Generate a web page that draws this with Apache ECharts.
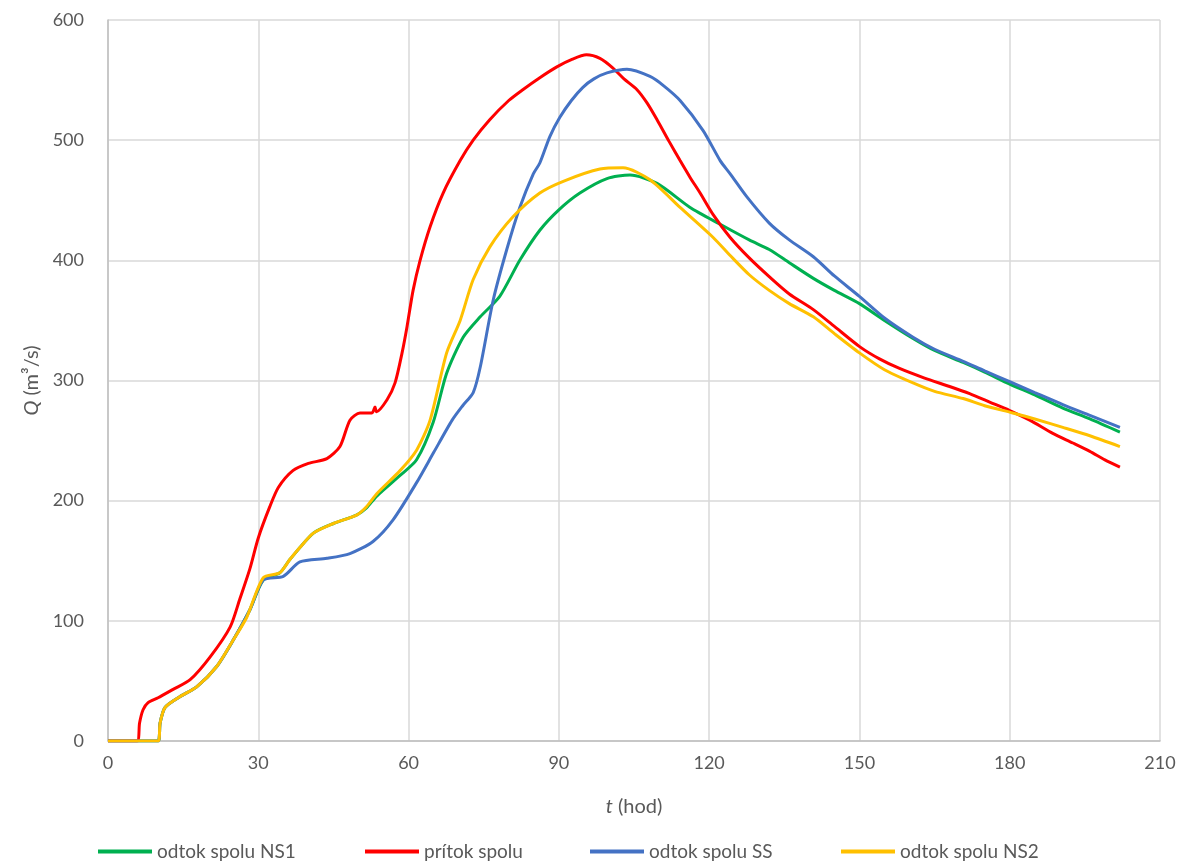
<!DOCTYPE html>
<html>
<head>
<meta charset="utf-8">
<script src="https://cdn.jsdelivr.net/npm/echarts@6/dist/echarts.min.js"></script>
<style>
  html, body { margin: 0; padding: 0; background: #fff; }
  #chart { width: 1185px; height: 862px; }
</style>
</head>
<body>
<div id="chart"></div>
<script>
// priebehy prietokov - hodnoty odcitane z grafu
let seriesNames = ['odtok spolu NS1', 'prítok spolu', 'odtok spolu SS', 'odtok spolu NS2'];
let xTicks = [0, 30, 60, 90, 120, 150, 180, 210];
let yTicks = [0, 100, 200, 300, 400, 500, 600];

let tPritok = [0, 5.8, 6.3, 7, 8, 10, 13, 16.4, 20.4, 24.4, 26.3, 28.3, 30, 32.3, 34, 36.9, 40, 43.7, 46.3, 48.3, 50.3, 52.7, 53.3, 53.6, 55.7, 57.3, 58.7, 59.7, 60.9, 62.3, 64.3, 66.9, 70.3, 72.9, 76.2, 80, 82.8, 86.2, 89.6, 92.5, 95.5, 98.2, 100.8, 103, 105.6, 107.6, 109.6, 112, 114.2, 116.2, 118.2, 120.8, 124.2, 128, 132.1, 136, 140.8, 145, 150.1, 154, 158, 163, 168, 172, 176, 180, 184, 188.6, 192.6, 196, 199, 202];
let qPritok = [0, 0, 15, 26, 32, 36, 43, 51, 70, 95, 118, 143, 169, 195, 211, 225, 231, 235, 245, 267, 273, 273, 278, 274, 284, 298, 323, 345, 375, 400, 428, 456, 483, 500, 517, 533, 542, 552, 561, 567, 571, 568, 560, 551, 542, 531, 517, 499, 483, 469, 456, 438, 419, 402, 386, 372, 359, 345, 328, 318, 310, 302, 295, 289, 282, 275, 267, 256, 248, 241, 234, 228];

let tNS1 = [0, 10, 10.4, 11.4, 14.4, 17.7, 21.7, 25, 28.3, 31, 34.3, 36.3, 41, 45, 49.6, 51.6, 53.7, 58.3, 61.6, 64.9, 67.6, 70.9, 74.3, 78.2, 82.2, 86.2, 90, 94.2, 99.6, 104.2, 109.6, 116.2, 122.2, 128, 132, 136, 140.8, 145, 150, 155, 160.7, 165, 170.7, 175, 180, 185, 190.6, 196, 202];
let qNS1 = [0, 0, 15, 28, 37, 45, 62, 84, 109, 134, 140, 151, 173, 181, 188, 194, 204, 221, 234, 265, 306, 336, 353, 370, 400, 425, 442, 456, 468, 471, 464, 444, 430, 417, 409, 398, 385, 375, 364, 350, 335, 325, 315, 307, 297, 288, 277, 268, 257];

let tSS = [0, 10, 10.4, 11.4, 14.4, 17.7, 21.7, 25, 28.3, 31, 35, 38.3, 43.7, 48.3, 52.9, 56.9, 61.6, 65, 68.7, 70.8, 72.9, 74.3, 76.9, 79.6, 82.2, 84.9, 86.2, 88.2, 90.2, 92.5, 94.8, 97, 99.6, 103.6, 108.2, 111, 114.2, 118.8, 122.2, 124.2, 127.5, 132, 136, 140.8, 145, 150, 155, 160.7, 165, 170.7, 175, 180, 185, 190.6, 196, 202];
let qSS = [0, 0, 15, 28, 37, 45, 62, 84, 109, 134, 137, 149, 152, 156, 166, 184, 215, 240, 267, 279, 290, 311, 367, 409, 444, 472, 481, 503, 519, 533, 544, 551, 556, 559, 553, 545, 533, 508, 483, 472, 453, 431, 417, 403, 387, 370, 352, 336, 326, 316, 308, 299, 290, 280, 271, 261];

let tNS2 = [0, 10, 10.4, 11.4, 14.4, 17.7, 21.7, 25, 27.7, 31, 34.3, 36.3, 38.3, 41, 45, 49.6, 51.6, 53.7, 58.3, 61.6, 64.3, 67.6, 70.3, 72.9, 76.2, 80.8, 86.2, 91, 98.2, 102.8, 108.2, 114.2, 120.8, 124.2, 128, 132, 136, 140.8, 145, 150, 155, 160.7, 165, 170.7, 175, 180.6, 185, 190.6, 196, 202];
let qNS2 = [0, 0, 15, 28, 37, 45, 62, 84, 103, 136, 140, 151, 161, 173, 181, 188, 195, 206, 225, 242, 267, 323, 350, 384, 411, 436, 456, 466, 476, 477, 467, 444, 419, 404, 388, 375, 364, 353, 339, 323, 309, 298, 291, 285, 279, 273, 268, 261, 254, 245];

let colors = ['#00b050', '#ff0000', '#4472c4', '#ffc000'];

let zip = (t, q) => t.map((v, i) => [v, q[i]]);

let myChart = echarts.init(document.getElementById('chart'));
let fontName = 'Lato';

let makeSeries = (i, t, q) => {
    return {
        name: seriesNames[i],
        type: 'line',
        data: zip(t, q),
        showSymbol: false,
        smooth: 0.25,
        lineStyle: { width: 3, color: colors[i] },
        itemStyle: { color: colors[i] },
        z: 2 + i
    };
};

let legendLefts = [93, 360, 585, 836];
let legends = [];
for (let i = 0; i < seriesNames.length; i++) {
    legends.push({
        data: [seriesNames[i]],
        left: legendLefts[i],
        top: 837,
        icon: 'rect',
        itemWidth: 54,
        itemHeight: 4,
        itemGap: 0,
        textStyle: { fontFamily: fontName, fontSize: 19, color: '#595959' }
    });
}

let option = {
    backgroundColor: '#fff',
    animation: false,
    color: colors,
    legend: legends,
    grid: { left: 108, right: 25, top: 20, bottom: 121, containLabel: false },
    xAxis: {
        type: 'value',
        min: xTicks[0],
        max: xTicks[xTicks.length - 1],
        interval: 30,
        name: '{i|t} (hod)',
        nameLocation: 'middle',
        nameGap: 56,
        nameTextStyle: {
            fontFamily: fontName, fontSize: 20, color: '#595959',
            rich: { i: { fontFamily: fontName, fontSize: 20, color: '#595959', fontStyle: 'italic' } }
        },
        axisLine: { show: true, lineStyle: { color: '#bfbfbf', width: 1.5 } },
        axisTick: { show: false },
        axisLabel: { fontFamily: fontName, fontSize: 18, color: '#595959', margin: 13 },
        splitLine: { show: true, lineStyle: { color: '#d9d9d9', width: 1.5 } }
    },
    yAxis: {
        type: 'value',
        min: yTicks[0],
        max: yTicks[yTicks.length - 1],
        interval: 100,
        name: '{i|Q} (m³/s)',
        nameLocation: 'middle',
        nameRotate: 90,
        nameGap: 64,
        nameTextStyle: {
            fontFamily: fontName, fontSize: 20, color: '#595959',
            rich: { i: { fontFamily: fontName, fontSize: 20, color: '#595959', fontStyle: 'italic' } }
        },
        axisLine: { show: true, lineStyle: { color: '#bfbfbf', width: 1.5 } },
        axisTick: { show: false },
        axisLabel: { fontFamily: fontName, fontSize: 18, color: '#595959', margin: 24 },
        splitLine: { show: true, lineStyle: { color: '#d9d9d9', width: 1.5 } }
    },
    series: [
        makeSeries(0, tNS1, qNS1),
        makeSeries(1, tPritok, qPritok),
        makeSeries(2, tSS, qSS),
        makeSeries(3, tNS2, qNS2)
    ]
};
myChart.setOption(option);
</script>
</body>
</html>
